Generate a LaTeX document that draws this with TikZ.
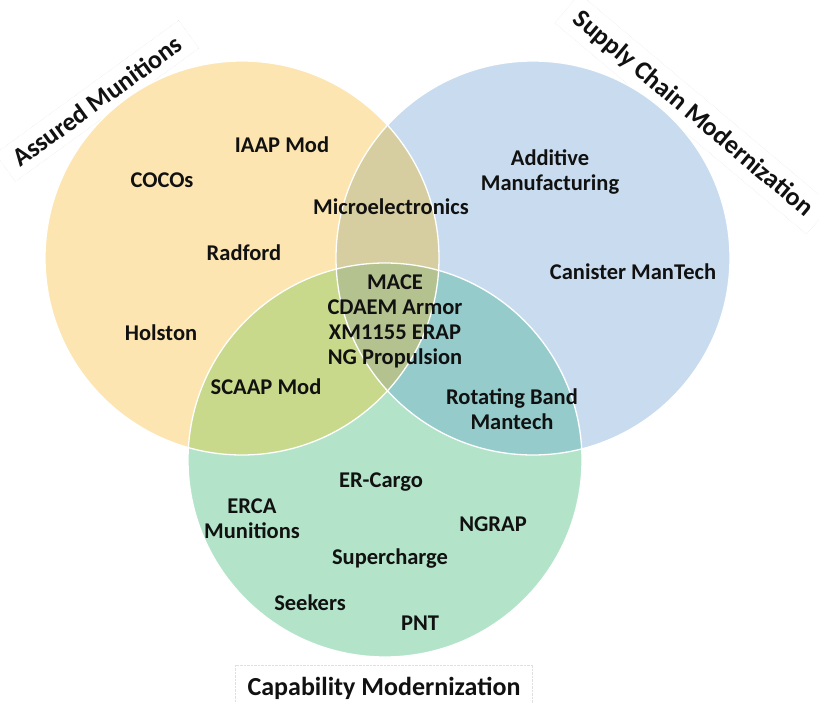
\documentclass[tikz,border=0pt]{standalone}
\usepackage{fontspec}
\setmainfont{Carlito}
\definecolor{cY}{HTML}{FCE5B1}
\definecolor{cB}{HTML}{C9DCEF}
\definecolor{cG}{HTML}{B3E4C9}
\definecolor{cYB}{HTML}{D6CEA0}
\definecolor{cYG}{HTML}{C8D98C}
\definecolor{cBG}{HTML}{95CCCB}
\definecolor{cYBG}{HTML}{B4C28F}
\definecolor{txt}{HTML}{111111}
\tikzset{
  lbl/.style={font=\fontsize{22.5}{25}\selectfont\bfseries, text=txt, align=center, inner sep=0pt},
  ttl/.style={font=\fontsize{26}{28}\selectfont\bfseries, text=txt, fill=white, draw=black!12, densely dotted, inner xsep=12pt, inner ysep=8pt},
  rim/.style={draw=white, line width=1.3pt}
}
\begin{document}
\begin{tikzpicture}[x=1pt,y=-1pt]
\useasboundingbox (0,0) rectangle (819,703);
\coordinate (Y) at (242,258);
\coordinate (B) at (533,258);
\coordinate (G) at (385,460);
% title boxes (below circles)
\node[ttl, rotate=36] (tA) at (97,101) {Assured Munitions};
\node[ttl, rotate=-40] (tS) at (693,114) {Supply Chain Modernization};
% base circles
\fill[cY] (Y) circle (197pt);
\fill[cB] (B) circle (197pt);
\fill[cG] (G) circle (197pt);
% pairwise overlaps
\begin{scope}\clip (Y) circle (197pt); \fill[cYB] (B) circle (197pt); \end{scope}
\begin{scope}\clip (Y) circle (197pt); \fill[cYG] (G) circle (197pt); \end{scope}
\begin{scope}\clip (B) circle (197pt); \fill[cBG] (G) circle (197pt); \end{scope}
\begin{scope}\clip (Y) circle (197pt); \clip (B) circle (197pt); \fill[cYBG] (G) circle (197pt); \end{scope}
% rims
\draw[rim] (Y) circle (197pt);
\draw[rim] (B) circle (197pt);
\draw[rim] (G) circle (197pt);
% bottom title
\node[ttl, inner ysep=12pt] (tC) at (384,688) {Capability Modernization};
% labels
\node[lbl] (cocos) at (162,180) {COCOs};
\node[lbl] (iaap) at (282,145) {IAAP Mod};
\node[lbl] (micro) at (391,207) {Microelectronics};
\node[lbl] (radford) at (244,253) {Radford};
\node[lbl] (holston) at (161,333) {Holston};
\node[lbl] (center) at (395,321) {MACE\\CDAEM Armor\\XM1155 ERAP\\NG Propulsion};
\node[lbl] (scaap) at (266,387) {SCAAP Mod};
\node[lbl] (rot) at (512,409) {Rotating Band\\Mantech};
\node[lbl] (add) at (550,172) {Additive\\Manufacturing};
\node[lbl] (can) at (633,272) {Canister ManTech};
\node[lbl] (erc) at (381,482) {ER-Cargo};
\node[lbl] (erca) at (252,519) {ERCA\\Munitions};
\node[lbl] (ngrap) at (493,524) {NGRAP};
\node[lbl] (super) at (390,559) {Supercharge};
\node[lbl] (seek) at (310,603) {Seekers};
\node[lbl] (pnt) at (420,623) {PNT};
\end{tikzpicture}
\end{document}
